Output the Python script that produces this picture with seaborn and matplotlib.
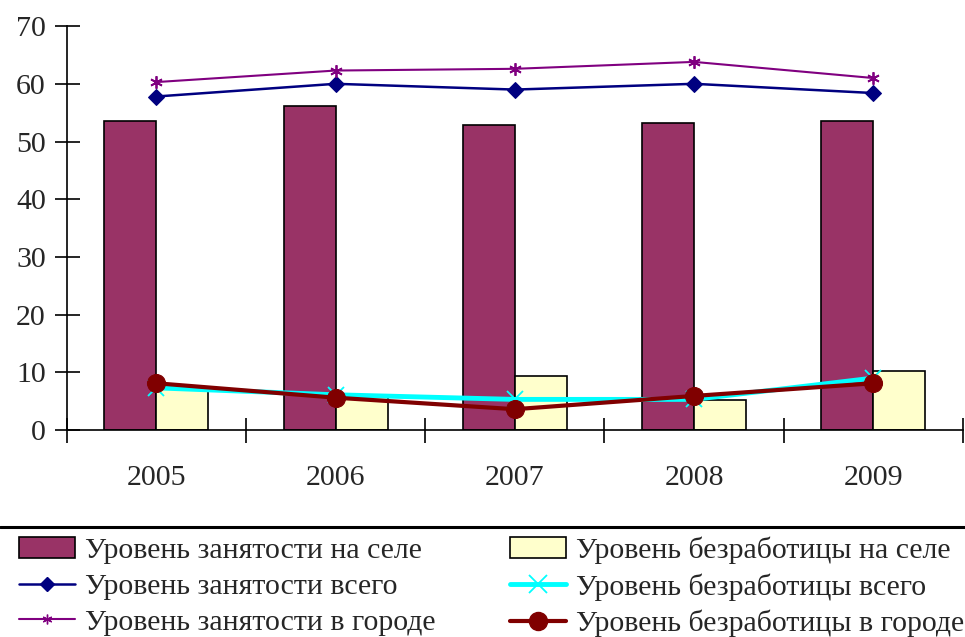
import numpy as np
import pandas as pd
import matplotlib
matplotlib.use("Agg")
import matplotlib.pyplot as plt
import matplotlib.lines as mlines
import matplotlib.patches as mpatches
import seaborn as sns

# === data ===
years = ["2005", "2006", "2007", "2008", "2009"]
empl_rural = [53.6, 56.2, 52.9, 53.2, 53.6]
unempl_rural = [7.2, 6.0, 9.4, 5.2, 10.3]
empl_total = [57.8, 60.0, 59.0, 60.0, 58.4]
empl_urban = [60.3, 62.3, 62.6, 63.8, 61.0]
unempl_total = [7.3, 6.1, 5.3, 5.3, 9.0]
unempl_urban = [8.1, 5.6, 3.6, 5.9, 8.1]

lbl_er = "Уровень занятости на селе"
lbl_ur = "Уровень безработицы на селе"
lbl_et = "Уровень занятости всего"
lbl_ut = "Уровень безработицы всего"
lbl_eu = "Уровень занятости в городе"
lbl_uu = "Уровень безработицы в городе"

FS = 21.5

sns.set_style("white")
plt.rcParams['font.family'] = ['Liberation Serif', 'DejaVu Serif']
plt.rcParams['font.size'] = FS

fig = plt.figure(figsize=(9.65, 6.37), dpi=100)
ax = fig.add_axes([0.069, 0.325, 0.929, 0.634])

bars = pd.DataFrame({
    "year": years * 2,
    "value": empl_rural + unempl_rural,
    "series": [lbl_er] * 5 + [lbl_ur] * 5,
})
sns.barplot(data=bars, x="year", y="value", hue="series",
            palette=["#993366", "#FFFFCC"], width=0.58, gap=0,
            edgecolor="black", linewidth=1.2, saturation=1,
            legend=False, ax=ax)

xs = np.arange(len(years))
sns.lineplot(x=xs, y=empl_total, color="#000080", marker="D", markersize=8,
             markeredgecolor="#000080", linewidth=1.8, ax=ax)
sns.lineplot(x=xs, y=empl_urban, color="#800080", marker=(6, 2, 0), markersize=9,
             markeredgecolor="#800080", markeredgewidth=1.3, linewidth=1.5, ax=ax)
sns.lineplot(x=xs, y=unempl_total, color="#00FFFF", marker="x", markersize=11,
             markeredgecolor="#00FFFF", markeredgewidth=1.3, linewidth=3.5, ax=ax)
sns.lineplot(x=xs, y=unempl_urban, color="#800000", marker="o", markersize=13,
             markeredgecolor="#800000", linewidth=3, ax=ax)

ax.set_xlim(-0.5, 4.5)
ax.set_ylim(0, 70)
ax.set_yticks(range(0, 71, 10))
ax.set_xticks(np.arange(-0.5, 4.6, 1))
ax.set_xticklabels([])
ax.set_xticks(xs, minor=True)
ax.set_xticklabels(years, minor=True)
ax.tick_params(bottom=True, left=True)
ax.tick_params(axis="x", which="minor", length=0, pad=25, labelsize=FS)
ax.tick_params(axis="x", which="major", direction="inout", length=18, width=1.2, color="black")
ax.tick_params(axis="y", direction="inout", length=18, width=1.2, color="black", pad=6, labelsize=FS)
ax.set_xlabel("")
ax.set_ylabel("")
for s in ["top", "right"]:
    ax.spines[s].set_visible(False)
for s in ["left", "bottom"]:
    ax.spines[s].set_color("black")
    ax.spines[s].set_linewidth(1.2)

# separator line above legend
fig.add_artist(mlines.Line2D([0, 1], [0.173, 0.173], color="black", linewidth=2.2,
                             transform=fig.transFigure))

h_er = mpatches.Patch(facecolor="#993366", edgecolor="black", linewidth=1.2)
h_ur = mpatches.Patch(facecolor="#FFFFCC", edgecolor="black", linewidth=1.2)
h_et = mlines.Line2D([], [], color="#000080", marker="D", markersize=7, linewidth=1.8)
h_eu = mlines.Line2D([], [], color="#800080", marker=(6, 2, 0), markersize=7, linewidth=1.5)
h_ut = mlines.Line2D([], [], color="#00FFFF", marker="x", markersize=13, markeredgewidth=1.3, linewidth=3.5)
h_uu = mlines.Line2D([], [], color="#800000", marker="o", markersize=13, linewidth=3)

fig.legend([h_er, h_et, h_eu, h_ur, h_ut, h_uu],
           [lbl_er, lbl_et, lbl_eu, lbl_ur, lbl_ut, lbl_uu],
           ncol=2, loc="upper left", bbox_to_anchor=(0.0, 0.188),
           frameon=False, handlelength=1.85, handletextpad=0.35,
           columnspacing=2.5, labelspacing=0.3, borderaxespad=0.25,
           fontsize=FS)

fig.savefig("out.png", dpi=100)
